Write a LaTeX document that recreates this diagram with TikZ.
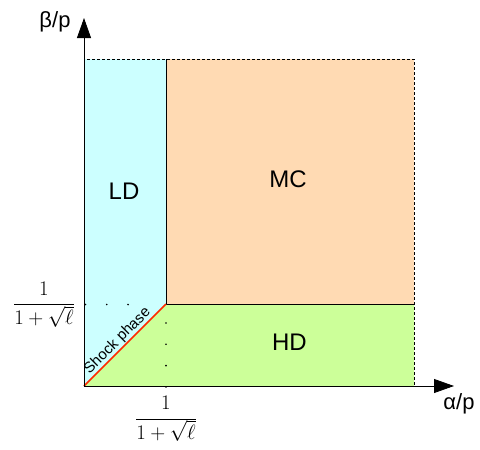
\documentclass[tikz,border=0pt]{standalone}
\usepackage{fontspec}
\setmainfont{Liberation Sans}
\usetikzlibrary{arrows.meta,calc}
\definecolor{ldcol}{HTML}{CCFFFF}
\definecolor{mccol}{HTML}{FFDAB3}
\definecolor{hdcol}{HTML}{CCFF99}
\definecolor{shockred}{HTML}{FF2A00}
\tikzset{
  phase/.style={font=\fontsize{24}{28}\selectfont},
  axislabel/.style={font=\fontsize{22}{26}\selectfont},
  border/.style={densely dashed, line width=0.8pt},
  dotline/.style={line width=1.8pt, dash pattern=on 0pt off 21.3pt, line cap=round},
  fraclabel/.style={font=\fontsize{21}{25}\selectfont, anchor=base, inner sep=0pt},
}
\begin{document}
\begin{tikzpicture}[x=1pt,y=-1pt]
\useasboundingbox (0,0) rectangle (480,450);
\coordinate (O) at (84,386);
\coordinate (TL) at (84,59);
\coordinate (TR) at (414,59);
\coordinate (BR) at (414,386);
\coordinate (S) at (166,304);
\coordinate (ST) at (166,59);
\coordinate (SB) at (166,386);
\coordinate (SR) at (414,304);
\coordinate (DH1) at (85.5,304.5);
\coordinate (DH2) at (140,304.5);
\coordinate (DV1) at (166,323);
\coordinate (DV2) at (166,390);
% regions
\fill[ldcol] (O) -- (TL) -- (ST) -- (S) -- cycle;
\fill[mccol] (ST) -- (TR) -- (SR) -- (S) -- cycle;
\fill[hdcol] (O) -- (S) -- (SR) -- (BR) -- cycle;
% borders
\draw[border] (O) -- (TL) -- (TR) -- (BR) -- cycle;
\draw[line width=0.8pt] (ST) -- (S) -- (SR);
\draw[dotline] (DH1) -- (DH2);
\draw[dotline] (DV1) -- (DV2);
\draw[shockred, line width=1.7pt] (O) -- (S);
% axes
\coordinate (yend) at (84,18);
\coordinate (xend) at (454,386);
\draw[line width=0.8pt, -{Triangle[length=20pt,width=14pt]}] (O) -- (yend);
\draw[line width=0.8pt, -{Triangle[length=20pt,width=14pt]}] (O) -- (xend);
% labels
\node[axislabel] (ylab) at (55,22) {β/p};
\node[axislabel] (xlab) at (459,404) {α/p};
\node[phase] (ld) at (124,191.5) {LD};
\node[phase] (mc) at (288,179.5) {MC};
\node[phase] (hd) at (289.5,342.5) {HD};
\node[font=\fontsize{15}{17}\selectfont, rotate=45, anchor=south, inner sep=1pt] (shock) at ($(O)!0.48!(S)$) {Shock phase};
\node[fraclabel] (fy) at (44,309.5) {$\displaystyle\frac{1}{1+\sqrt{\ell}}$};
\node[fraclabel] (fx) at (166,424) {$\displaystyle\frac{1}{1+\sqrt{\ell}}$};
\end{tikzpicture}
\end{document}
